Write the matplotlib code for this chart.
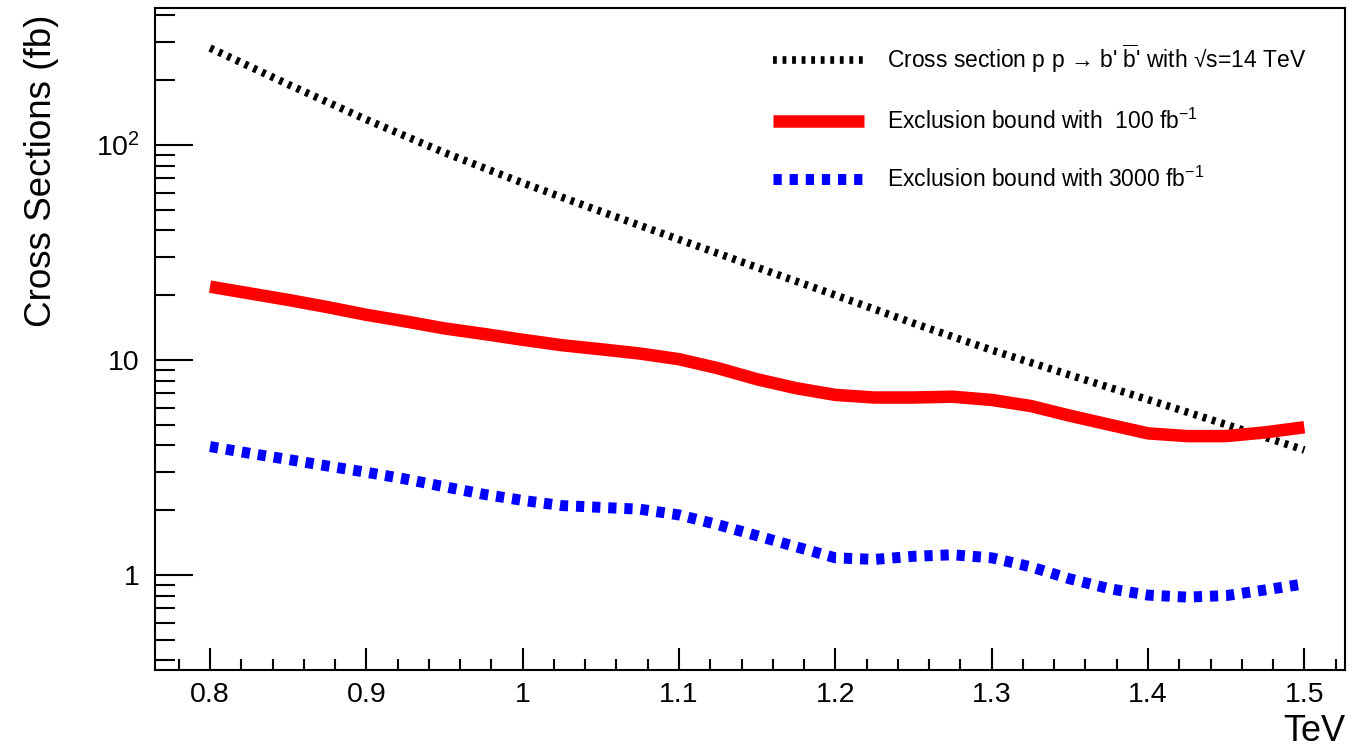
import numpy as np
import matplotlib
matplotlib.use('Agg')
import matplotlib.pyplot as plt
from matplotlib.ticker import FixedLocator, FixedFormatter, LogLocator, MultipleLocator, NullFormatter

plt.rcParams['font.family'] = ['Liberation Sans', 'DejaVu Sans']
plt.rcParams['mathtext.fontset'] = 'custom'
plt.rcParams['mathtext.rm'] = 'Liberation Sans'
plt.rcParams['mathtext.it'] = 'Liberation Sans:italic'
plt.rcParams['mathtext.bf'] = 'Liberation Sans:bold'

# b' mass (TeV) for the theory curve
mass_xsec = [0.80, 0.85, 0.90, 0.95, 1.00, 1.05, 1.10, 1.15, 1.20, 1.25, 1.30, 1.35, 1.40, 1.45, 1.50]
xsec_14tev = [282, 191, 131, 92, 66.5, 49, 36.3, 26.9, 20.0, 14.8, 11.1, 8.5, 6.53, 5.0, 3.81]

# b' mass (TeV) for the exclusion bounds
mass = [0.800, 0.825, 0.850, 0.875, 0.900, 0.925, 0.950, 0.975, 1.000, 1.025,
        1.050, 1.075, 1.100, 1.125, 1.150, 1.175, 1.200, 1.225, 1.250, 1.275,
        1.300, 1.325, 1.350, 1.375, 1.400, 1.425, 1.450, 1.475, 1.500]
bound_100 = [21.9, 20.4, 19.0, 17.6, 16.2, 15.1, 14.0, 13.2, 12.4, 11.7,
             11.2, 10.7, 10.07, 9.14, 8.12, 7.38, 6.87, 6.68, 6.68, 6.74,
             6.51, 6.1, 5.5, 5.0, 4.55, 4.42, 4.42, 4.6, 4.86]
bound_3000 = [3.95, 3.68, 3.44, 3.21, 3.00, 2.79, 2.57, 2.37, 2.22, 2.10,
              2.06, 2.02, 1.90, 1.71, 1.52, 1.35, 1.20, 1.18, 1.22, 1.24,
              1.20, 1.09, 0.958, 0.863, 0.805, 0.788, 0.801, 0.851, 0.908]

labels = ["Cross section p p \u2192 b' $\\overline{\\mathrm{b}}$' with \u221As=14 TeV",
          r"Exclusion bound with  100 fb$^{-1}$",
          r"Exclusion bound with 3000 fb$^{-1}$"]

fig = plt.figure(figsize=(13.54, 7.55), dpi=100)
ax = fig.add_axes([155/1354, 1-670/755, (1345-155)/1354, (670-8)/755])

ax.plot(mass_xsec, xsec_14tev, color='black', lw=5.5, dashes=(0.5, 0.75), label=labels[0])
ax.plot(mass, bound_100, color='red', lw=9.0, solid_capstyle='butt', solid_joinstyle='round', label=labels[1])
ax.plot(mass, bound_3000, color='blue', lw=7.9, dashes=(0.75, 0.72), label=labels[2])

ax.set_yscale('log')
ax.set_xlim(0.7648, 1.526)
ax.set_ylim(0.361, 433)

ax.set_xticks([0.8, 0.9, 1.0, 1.1, 1.2, 1.3, 1.4, 1.5])
ax.set_xticklabels(['0.8', '0.9', '1', '1.1', '1.2', '1.3', '1.4', '1.5'])
ax.xaxis.set_minor_locator(MultipleLocator(0.02))
ax.yaxis.set_major_locator(FixedLocator([1, 10, 100]))
ax.yaxis.set_major_formatter(FixedFormatter(['1', '10', r'$\mathregular{10^{2}}$']))
ax.yaxis.set_minor_locator(LogLocator(base=10, subs=np.arange(2, 10)))
ax.yaxis.set_minor_formatter(NullFormatter())

ax.tick_params(axis='both', which='both', direction='in', width=1.5, top=False, right=False,
               labelsize=20.5, colors='black')
ax.tick_params(axis='x', which='major', length=16, pad=9)
ax.tick_params(axis='x', which='minor', length=8)
ax.tick_params(axis='y', which='major', length=27, pad=11)
ax.tick_params(axis='y', which='minor', length=14.4)
for sp in ax.spines.values():
    sp.set_linewidth(1.5)

ax.set_ylabel('Cross Sections (fb)', fontsize=26.5, loc='top')
ax.yaxis.set_label_coords(-0.0805, 0.99)
ax.set_xlabel('TeV', fontsize=26, loc='right')
ax.xaxis.set_label_coords(1.0, -0.066)

ax.legend(loc='upper left', bbox_to_anchor=(0.519, 0.948), frameon=False, fontsize=16.5,
          handlelength=4.0, handletextpad=1.0, labelspacing=1.45, borderpad=0, borderaxespad=0)

fig.savefig('out.png', dpi=100)
